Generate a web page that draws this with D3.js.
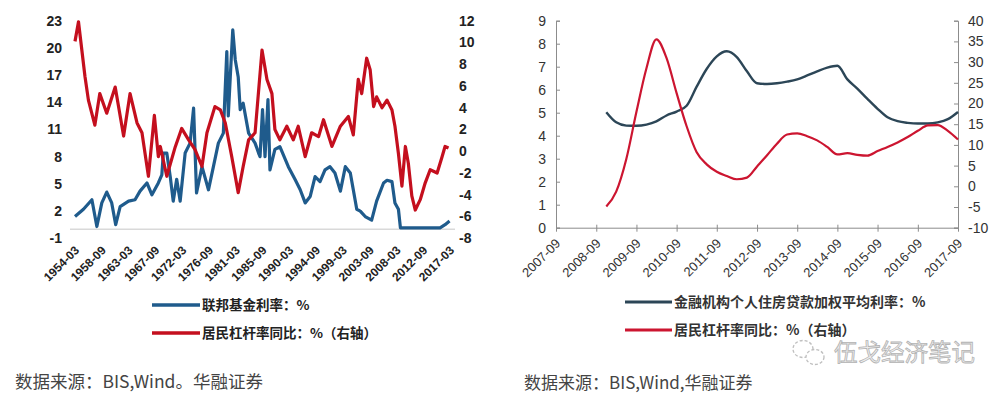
<!DOCTYPE html>
<html><head><meta charset="utf-8">
<script src="https://cdn.jsdelivr.net/npm/d3@7"></script>
<style>html,body{margin:0;padding:0;background:#fff;} svg{display:block;}</style>
</head><body><svg id="c" width="1007" height="395"></svg>
<script>
// ---------- Left chart data ----------
const leftXTicks = ["1954-03","1958-09","1963-03","1967-09","1972-03","1976-09","1981-03","1985-09","1990-03","1994-09","1999-03","2003-09","2008-03","2012-09","2017-03"];
const leftYTicks = [-1,2,5,8,11,14,17,20,23];
const leftY2Ticks = [-8,-6,-4,-2,0,2,4,6,8,10,12];

const fedDates = ["1954-03","1955-08","1957-01","1957-11","1958-09","1959-07","1960-05","1961-01","1961-10","1963-03","1964-04","1965-02","1966-04","1967-02","1968-03","1968-10","1969-01","1969-08","1970-03","1970-09","1971-04","1971-11","1972-09","1973-07","1974-02","1974-08","1975-07","1976-08","1977-06","1978-04","1979-02","1979-09","1979-12","1980-04","1980-09","1981-02","1981-08","1981-12","1982-06","1983-05","1984-06","1985-01","1985-04","1985-09","1986-02","1986-08","1986-12","1987-10","1988-08","1990-01","1991-03","1992-01","1992-11","1993-09","1994-07","1995-05","1996-03","1997-01","1997-11","1998-10","1999-08","2000-06","2000-12","2001-07","2002-02","2002-12","2004-01","2004-11","2006-01","2006-08","2007-06","2007-12","2008-07","2008-11","2015-07","2016-05","2017-02"];
const fedValues = [1.4,2.2,3.25,0.3,2.9,4.1,2.9,0.5,2.5,3.1,3.25,4.2,5.1,3.8,5.1,6.0,8.4,8.4,5.8,3.1,5.5,3.1,8.4,9.5,13.35,4.0,6.9,4.35,6.9,9.5,10.6,19.6,12.5,16.8,22,18.7,16.8,13.2,13.9,10.6,9.5,8.4,8.0,13.2,8.0,14.3,6.55,8.8,9.1,6.9,5.45,4.35,2.9,3.6,5.8,5.25,6.55,6.9,6.2,4.2,6.9,6.2,4.35,2.2,2.0,1.4,1.0,3.1,5.1,5.4,5.25,2.9,2.2,0.15,0.15,0.5,0.9];

const levDatesL = ["1954-03","1954-10","1955-11","1956-06","1957-07","1958-05","1959-07","1960-12","1962-05","1963-06","1964-08","1965-06","1966-07","1967-07","1968-03","1968-07","1969-08","1971-01","1972-02","1973-04","1974-05","1975-07","1976-05","1977-09","1978-08","1979-06","1980-07","1981-08","1982-06","1983-05","1984-06","1985-08","1986-06","1987-04","1987-10","1988-08","1989-10","1990-11","1991-09","1992-11","1993-12","1995-02","1995-12","1997-05","1998-10","2000-02","2000-12","2001-10","2002-05","2003-03","2003-10","2004-05","2004-11","2005-10","2006-08","2007-06","2007-12","2008-07","2009-02","2009-09","2010-03","2010-10","2011-05","2012-03","2013-01","2013-11","2015-01","2015-11","2016-05","2016-12"];
const levValuesL = [10.1,11.9,6.9,4.7,2.4,5.3,3.5,5.9,1.4,5.3,2.6,1.7,-2.3,3.3,-0.5,0.44,-2.3,0.4,2.1,1.05,0.14,-1.4,1.7,4.1,3.8,2.6,-0.5,-3.8,-1.4,1.05,1.7,9.3,6.6,5.3,2.0,1.05,2.3,1.05,2.3,-0.5,1.7,1.35,2.9,0.44,2.3,3.2,1.5,6.6,5.3,8.55,7.5,4.1,5.0,4.0,4.7,3.8,2.3,-0.2,-3.2,0.44,-1.1,-4.1,-5.4,-4.45,-2.9,-1.7,-2.0,-0.5,0.44,0.3];

// ---------- Right chart data ----------
const rightXTicks = ["2007-09","2008-09","2009-09","2010-09","2011-09","2012-09","2013-09","2014-09","2015-09","2016-09","2017-09"];
const rightYTicks = [0,1,2,3,4,5,6,7,8,9];
const rightY2Ticks = [-10,-5,0,5,10,15,20,25,30,35,40];
const rightDates = ["2008-12","2009-03","2009-06","2009-09","2009-12","2010-03","2010-06","2010-09","2010-12","2011-03","2011-06","2011-09","2011-12","2012-03","2012-06","2012-09","2012-12","2013-03","2013-06","2013-09","2013-12","2014-03","2014-06","2014-09","2014-12","2015-03","2015-06","2015-09","2015-12","2016-03","2016-06","2016-09","2016-12","2017-03","2017-06","2017-09"];
const mortgageRate = [5.02,4.58,4.44,4.43,4.48,4.62,4.88,5.05,5.3,6.12,6.9,7.45,7.67,7.42,6.8,6.28,6.25,6.28,6.35,6.45,6.62,6.8,6.96,7.04,6.45,6.05,5.6,5.17,4.8,4.63,4.56,4.53,4.53,4.58,4.72,5.03];
const levValuesR = [-4.9,-1.3,6.6,18,28.5,35.5,31,22.5,14.5,8.3,5.3,3.5,2.5,1.7,2.1,4.8,7.5,10.3,12.5,12.8,12.1,11.1,9.5,7.7,8.0,7.6,7.4,8.5,9.5,10.6,11.9,13.4,14.7,14.8,13.4,11.3];

const legendLeft = ["联邦基金利率：%","居民杠杆率同比：%（右轴）"];
const legendRight = ["金融机构个人住房贷款加权平均利率：%","居民杠杆率同比：%（右轴）"];
const sourceLeft = "数据来源：BIS,Wind。华融证券";
const sourceRight = "数据来源：BIS,Wind,华融证券";
const watermark = "伍戈经济笔记";

// ---------- Drawing ----------
const parse = d3.timeParse("%Y-%m");
const svg = d3.select("#c");
const NUM = "'Liberation Sans', Arial, sans-serif";
const CJK = "'Noto Sans CJK SC', sans-serif";

const blueL = "#1f5b8c", redL = "#c40f1e";
const blueR = "#2c4657", redR = "#cc1530";

// Left chart scales
const xL = d3.scaleTime().domain([parse("1954-03"), parse("2017-03")]).range([75, 450]);
const yL = d3.scaleLinear().domain([-1, 23]).range([238.3, 20.7]);
const yL2 = d3.scaleLinear().domain([-8, 12]).range([238.3, 20.7]);

const gL = svg.append("g");
gL.append("line").attr("x1", 70).attr("x2", 455).attr("y1", yL(0)).attr("y2", yL(0))
  .attr("stroke", "#d9d9d9").attr("stroke-width", 1.5);

gL.selectAll(".ly").data(leftYTicks).enter().append("text")
  .attr("x", 62).attr("y", d => yL(d)).attr("dy", "0.35em").attr("text-anchor", "end")
  .attr("font-family", NUM).attr("font-size", 14).attr("font-weight", "bold").attr("fill", "#222")
  .text(d => d);
gL.selectAll(".ly2").data(leftY2Ticks).enter().append("text")
  .attr("x", 459).attr("y", d => yL2(d)).attr("dy", "0.35em").attr("text-anchor", "start")
  .attr("font-family", NUM).attr("font-size", 14).attr("font-weight", "bold").attr("fill", "#222")
  .text(d => d);
gL.selectAll(".lx").data(leftXTicks).enter().append("text")
  .attr("transform", d => `translate(${xL(parse(d)) + 2},${248}) rotate(-45)`)
  .attr("text-anchor", "end").attr("dy", "0.35em")
  .attr("font-family", NUM).attr("font-size", 12).attr("font-weight", "bold").attr("fill", "#222")
  .text(d => d);

const fedData = fedDates.map((d, i) => ({ date: parse(d), v: fedValues[i] }));
const levDataL = levDatesL.map((d, i) => ({ date: parse(d), v: levValuesL[i] }));
gL.append("path").datum(fedData)
  .attr("d", d3.line().x(d => xL(d.date)).y(d => yL(d.v)))
  .attr("fill", "none").attr("stroke", blueL).attr("stroke-width", 3.2).attr("stroke-linejoin", "round");
gL.append("path").datum(levDataL)
  .attr("d", d3.line().x(d => xL(d.date)).y(d => yL2(d.v)))
  .attr("fill", "none").attr("stroke", redL).attr("stroke-width", 3.2).attr("stroke-linejoin", "round");

// Left legend
const legL = [[blueL, 305], [redL, 333]];
legendLeft.forEach((t, i) => {
  gL.append("line").attr("x1", 152).attr("x2", 200).attr("y1", legL[i][1]).attr("y2", legL[i][1])
    .attr("stroke", legL[i][0]).attr("stroke-width", 3.5);
  gL.append("text").attr("x", 202).attr("y", legL[i][1]).attr("dy", "0.35em")
    .attr("font-family", CJK).attr("font-size", 13.5).attr("font-weight", "bold").attr("fill", "#222").text(t);
});
svg.append("text").attr("x", 15).attr("y", 382).attr("dy", "0.35em")
  .attr("font-family", CJK).attr("font-size", 17.5).attr("fill", "#444").text(sourceLeft);

// Right chart scales
const xR = d3.scaleTime().domain([parse("2007-09"), parse("2017-09")]).range([556, 958]);
const yR = d3.scaleLinear().domain([0, 9]).range([227.7, 20.7]);
const yR2 = d3.scaleLinear().domain([-10, 40]).range([227.7, 20.7]);

const gR = svg.append("g");
const axisCol = "#8c8c8c";
const axL = gR.append("g").attr("transform", "translate(556,0)")
  .call(d3.axisRight(yR).tickValues(rightYTicks).tickSize(4).tickFormat(""));
axL.select(".domain").attr("stroke", axisCol);
axL.selectAll(".tick line").attr("stroke", axisCol);
gR.selectAll(".ry").data(rightYTicks).enter().append("text")
  .attr("x", 546).attr("y", d => yR(d)).attr("dy", "0.35em").attr("text-anchor", "end")
  .attr("font-family", NUM).attr("font-size", 14).attr("fill", "#333").text(d => d);
const axR = gR.append("g").attr("transform", "translate(958,0)")
  .call(d3.axisLeft(yR2).tickValues(rightY2Ticks).tickSize(4).tickFormat(""));
axR.select(".domain").attr("stroke", axisCol);
axR.selectAll(".tick line").attr("stroke", axisCol);
gR.selectAll(".ry2").data(rightY2Ticks).enter().append("text")
  .attr("x", 968).attr("y", d => yR2(d)).attr("dy", "0.35em").attr("text-anchor", "start")
  .attr("font-family", NUM).attr("font-size", 14).attr("fill", "#333").text(d => d);
const axB = gR.append("g").attr("transform", "translate(0,227.7)")
  .call(d3.axisBottom(xR).tickValues(rightXTicks.map(parse)).tickSize(4).tickSizeOuter(0).tickFormat(""));
axB.select(".domain").attr("stroke", axisCol);
axB.selectAll(".tick line").attr("stroke", axisCol).attr("y1", -3);
gR.selectAll(".rx").data(rightXTicks).enter().append("text")
  .attr("transform", d => `translate(${xR(parse(d)) + 2},${241}) rotate(-45)`)
  .attr("text-anchor", "end").attr("dy", "0.35em")
  .attr("font-family", NUM).attr("font-size", 13).attr("fill", "#333").text(d => d);

const mortData = rightDates.map((d, i) => ({ date: parse(d), v: mortgageRate[i] }));
const levDataR = rightDates.map((d, i) => ({ date: parse(d), v: levValuesR[i] }));
gR.append("path").datum(mortData)
  .attr("d", d3.line().curve(d3.curveMonotoneX).x(d => xR(d.date)).y(d => yR(d.v)))
  .attr("fill", "none").attr("stroke", blueR).attr("stroke-width", 2.4).attr("stroke-linejoin", "round");
gR.append("path").datum(levDataR)
  .attr("d", d3.line().curve(d3.curveMonotoneX).x(d => xR(d.date)).y(d => yR2(d.v)))
  .attr("fill", "none").attr("stroke", redR).attr("stroke-width", 2.2).attr("stroke-linejoin", "round");

const legR = [[blueR, 302], [redR, 330]];
legendRight.forEach((t, i) => {
  gR.append("line").attr("x1", 625).attr("x2", 672).attr("y1", legR[i][1]).attr("y2", legR[i][1])
    .attr("stroke", legR[i][0]).attr("stroke-width", 3);
  gR.append("text").attr("x", 674).attr("y", legR[i][1]).attr("dy", "0.35em")
    .attr("font-family", CJK).attr("font-size", 14).attr("font-weight", "bold").attr("fill", "#333").text(t);
});
svg.append("text").attr("x", 524).attr("y", 383).attr("dy", "0.35em")
  .attr("font-family", CJK).attr("font-size", 17).attr("fill", "#444").text(sourceRight);

const wm = svg.append("g").attr("opacity", 0.75);
wm.append("ellipse").attr("cx", 803).attr("cy", 349).attr("rx", 10).attr("ry", 8.5)
  .attr("fill", "none").attr("stroke", "#aaa").attr("stroke-width", 1.3).attr("stroke-dasharray", "3,2");
wm.append("ellipse").attr("cx", 815).attr("cy", 357).attr("rx", 9).attr("ry", 7.5)
  .attr("fill", "#fff").attr("stroke", "#aaa").attr("stroke-width", 1.3).attr("stroke-dasharray", "3,2");
wm.append("text").attr("x", 834).attr("y", 353).attr("dy", "0.35em")
  .attr("font-family", CJK).attr("font-size", 23.5).attr("fill", "#e8e8e8").attr("stroke", "#999")
  .attr("stroke-width", 0.8).text(watermark);
</script></body></html>
